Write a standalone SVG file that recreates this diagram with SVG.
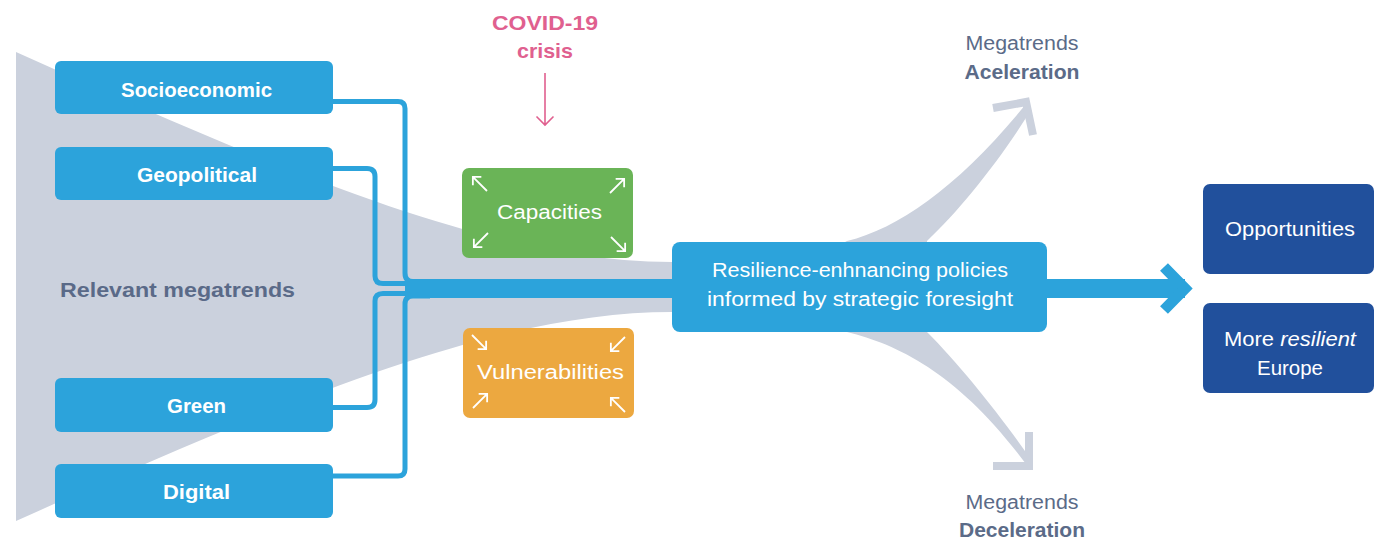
<svg xmlns="http://www.w3.org/2000/svg" width="1379" height="539" viewBox="0 0 1379 539">
<defs>
<style>
.lbl{font-family:"Liberation Sans",Arial,sans-serif;font-size:20px;fill:#fff;text-anchor:middle}
.b{font-weight:bold}
.gt{font-family:"Liberation Sans",Arial,sans-serif;font-size:20px;fill:#5b6b88;text-anchor:middle}
.conn{fill:none;stroke:#2ca3db;stroke-width:5}
.gray{fill:#cbd1dd}
.grayS{fill:none;stroke:#cbd1dd;stroke-width:8;stroke-linejoin:miter}
.wa{fill:none;stroke:#fff;stroke-width:1.8}
</style>
<path id="wa" d="M0,0 H20 M14,-6 L20,0 L14,6"/>
</defs>
<rect width="1379" height="539" fill="#fff"/>

<g id="funnel">
<path class="gray" d="M16,52 C300,180 500,262 672,262 L710,262 L710,312 L672,312 C500,312 300,394 16,521 Z"/>
<path class="gray" d="M820,255 L847,241 C900,228 960,185 1026,104 L1031,110 C1000,160 960,210 927,241 L927,260 Z"/>
<path class="grayS" d="M993,108 L1026,102 L1033,135"/>
<path class="gray" d="M820,320 L847,332 C900,345 960,375 1026,464 L1030,458 C1000,415 960,365 927,332 L927,320 Z"/>
<path class="grayS" d="M993,466 L1029,466 L1029,432"/>
</g>

<g id="connectors">
<path class="conn" d="M333,101.5 H398 Q405,101.5 405,108.5 V273 Q405,281.5 413,281.5 H430"/>
<path class="conn" d="M333,168.5 H367 Q375,168.5 375,176.5 V276 Q375,283.5 383,283.5 H420"/>
<path class="conn" d="M333,407.5 H367 Q375,407.5 375,399.5 V301 Q375,293.5 383,293.5 H420"/>
<path class="conn" d="M333,476 H398 Q405,476 405,469 V304 Q405,296 413,296 H430"/>
<rect x="405" y="279" width="300" height="19" fill="#2ca3db"/>
<rect x="1030" y="279" width="155" height="19" fill="#2ca3db"/>
<path d="M1164,267 L1185,288.5 L1164,310" fill="none" stroke="#2ca3db" stroke-width="11" stroke-linejoin="miter"/>
<path d="M545,73 V125 M536.5,116.5 L545,125 L553.5,116.5" fill="none" stroke="#e0608f" stroke-width="1.6"/>
</g>

<g id="n-socio">
<rect x="55" y="61" width="278" height="53" rx="6" fill="#2ca3db"/>
<text class="lbl b" x="196.5" y="97" textLength="151" lengthAdjust="spacingAndGlyphs">Socioeconomic</text>
</g>
<g id="n-geo">
<rect x="55" y="147" width="278" height="53" rx="6" fill="#2ca3db"/>
<text class="lbl b" x="197" y="182" textLength="120" lengthAdjust="spacingAndGlyphs">Geopolitical</text>
</g>
<g id="n-green">
<rect x="55" y="378" width="278" height="54" rx="6" fill="#2ca3db"/>
<text class="lbl b" x="196.5" y="413" textLength="59" lengthAdjust="spacingAndGlyphs">Green</text>
</g>
<g id="n-digital">
<rect x="55" y="464" width="278" height="54" rx="6" fill="#2ca3db"/>
<text class="lbl b" x="196.5" y="499" textLength="67" lengthAdjust="spacingAndGlyphs">Digital</text>
</g>

<g id="t-relevant">
<text class="gt b" x="177.5" y="297" font-size="21" textLength="235" lengthAdjust="spacingAndGlyphs" style="fill:#5a6a88">Relevant megatrends</text>
</g>

<g id="t-covid">
<text x="545" y="30" font-family="Liberation Sans,Arial,sans-serif" font-size="21" font-weight="bold" fill="#e0608f" text-anchor="middle" textLength="106" lengthAdjust="spacingAndGlyphs">COVID-19</text>
<text x="545" y="58" font-family="Liberation Sans,Arial,sans-serif" font-size="21" font-weight="bold" fill="#e0608f" text-anchor="middle" textLength="56" lengthAdjust="spacingAndGlyphs">crisis</text>
</g>

<g id="n-capacities">
<rect x="462" y="168" width="171" height="90" rx="7" fill="#6ab457"/>
<text class="lbl b" x="549.5" y="219" textLength="105" lengthAdjust="spacingAndGlyphs" style="font-weight:normal">Capacities</text>
<use href="#wa" class="wa" transform="translate(487,191) rotate(-135)"/>
<use href="#wa" class="wa" transform="translate(610,193) rotate(-45)"/>
<use href="#wa" class="wa" transform="translate(488,233) rotate(135)"/>
<use href="#wa" class="wa" transform="translate(611,237) rotate(45)"/>
</g>

<g id="n-vulnerabilities">
<rect x="463" y="328" width="171" height="90" rx="7" fill="#eca840"/>
<text class="lbl" x="550.5" y="379" textLength="147" lengthAdjust="spacingAndGlyphs">Vulnerabilities</text>
<use href="#wa" class="wa" transform="translate(472,335) rotate(45)"/>
<use href="#wa" class="wa" transform="translate(625,337) rotate(135)"/>
<use href="#wa" class="wa" transform="translate(473,408) rotate(-45)"/>
<use href="#wa" class="wa" transform="translate(625,412) rotate(-135)"/>
</g>

<g id="n-policies">
<rect x="672" y="242" width="375" height="90" rx="8" fill="#2ca3db"/>
<text class="lbl" x="860" y="277" textLength="296" lengthAdjust="spacingAndGlyphs">Resilience-enhnancing policies</text>
<text class="lbl" x="860" y="306" textLength="306" lengthAdjust="spacingAndGlyphs">informed by strategic foresight</text>
</g>

<g id="t-acc">
<text class="gt" x="1022" y="50" textLength="113" lengthAdjust="spacingAndGlyphs">Megatrends</text>
<text class="gt b" x="1022" y="79" textLength="115" lengthAdjust="spacingAndGlyphs">Aceleration</text>
</g>
<g id="t-dec">
<text class="gt" x="1022" y="509" textLength="113" lengthAdjust="spacingAndGlyphs">Megatrends</text>
<text class="gt b" x="1022" y="537" textLength="126" lengthAdjust="spacingAndGlyphs">Deceleration</text>
</g>

<g id="n-opportunities">
<rect x="1203" y="184" width="171" height="90" rx="7" fill="#21509c"/>
<text class="lbl" x="1290" y="236" textLength="130" lengthAdjust="spacingAndGlyphs">Opportunities</text>
</g>
<g id="n-europe">
<rect x="1203" y="303" width="171" height="90" rx="7" fill="#21509c"/>
<text class="lbl" x="1290" y="346" textLength="132" lengthAdjust="spacingAndGlyphs">More <tspan font-style="italic">resilient</tspan></text>
<text class="lbl" x="1290" y="375" textLength="66" lengthAdjust="spacingAndGlyphs">Europe</text>
</g>
</svg>
